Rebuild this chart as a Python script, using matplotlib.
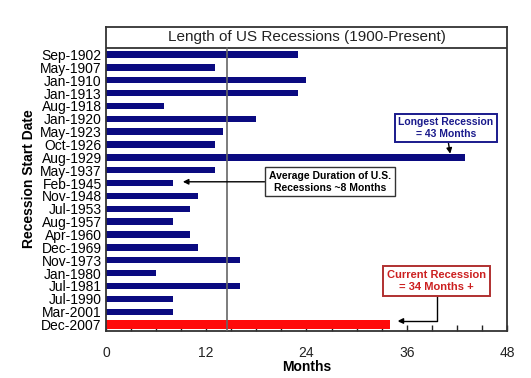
import matplotlib.pyplot as plt
import numpy as np

plt.rcParams['font.family'] = ['Liberation Sans', 'DejaVu Sans']

start_dates = ["Sep-1902", "May-1907", "Jan-1910", "Jan-1913", "Aug-1918", "Jan-1920",
               "May-1923", "Oct-1926", "Aug-1929", "May-1937", "Feb-1945", "Nov-1948",
               "Jul-1953", "Aug-1957", "Apr-1960", "Dec-1969", "Nov-1973", "Jan-1980",
               "Jul-1981", "Jul-1990", "Mar-2001", "Dec-2007"]
months = [23, 13, 24, 23, 7, 18, 14, 13, 43, 13, 8, 11, 10, 8, 10, 11, 16, 6, 16, 8, 8, 34]
avg_line = 14.5

navy = '#0a0a80'
red = '#ff0a0a'

fig = plt.figure(figsize=(5.31, 3.78), dpi=100)
ax = fig.add_axes([0.1996, 0.1243, 0.7552, 0.8042])

y = np.arange(len(start_dates))
colors = [navy] * (len(months) - 1) + [red]
heights = [0.5] * (len(months) - 1) + [0.68]
ax.barh(y, months, height=heights, color=colors, zorder=2)

# average line drawn over the bars
ax.plot([avg_line, avg_line], [-0.5, len(y) - 0.5], color='#666666', lw=1.2, zorder=3)

ax.set_xlim(0, 48)
ax.set_ylim(len(y) - 0.5, -2.13)
ax.set_yticks(y)
ax.set_yticklabels(start_dates, fontsize=10)
ax.tick_params(axis='y', length=0, pad=3)
ax.set_xticks(np.arange(0, 49, 12))
ax.set_xticks(np.arange(0, 49, 3), minor=True)
ax.tick_params(axis='x', which='both', direction='in', length=4, width=1, pad=11,
               labelsize=10, colors='#222222')
for s in ax.spines.values():
    s.set_color('#333333')
    s.set_linewidth(1.3)

# title band inside the frame
ax.axhline(-0.5, color='#333333', lw=1.3)
ax.text(24, -1.32, "Length of US Recessions (1900-Present)", ha='center', va='center',
        fontsize=11, color='#222222')

ax.set_ylabel("Recession Start Date", fontsize=10, fontweight='bold', labelpad=3)
ax.set_xlabel("Months", fontsize=10, fontweight='bold', labelpad=0)

ax.annotate("Longest Recession\n= 43 Months", xy=(41.2, 7.72), xytext=(40.7, 5.72),
            ha='center', va='center', fontsize=7.5, fontweight='bold', color='#1a1a8c',
            bbox=dict(boxstyle='square,pad=0.35', fc='white', ec='#1a1a8c', lw=1.4),
            arrowprops=dict(arrowstyle='-|>', color='black', lw=1, mutation_scale=8,
                            shrinkA=0, shrinkB=0))

ax.annotate("Average Duration of U.S.\nRecessions ~8 Months", xy=(9.2, 9.9), xytext=(26.8, 9.9),
            ha='center', va='center', fontsize=7.5, fontweight='bold', color='black',
            bbox=dict(boxstyle='square,pad=0.35', fc='white', ec='#333333', lw=1),
            arrowprops=dict(arrowstyle='-|>', color='black', lw=1, mutation_scale=8,
                            shrinkA=0, shrinkB=0))

ax.annotate("Current Recession\n= 34 Months +", xy=(34.9, 20.72), xytext=(39.6, 17.6),
            ha='center', va='center', fontsize=8, fontweight='bold', color='#cc2020',
            bbox=dict(boxstyle='square,pad=0.35', fc='white', ec='#b03030', lw=1.4),
            arrowprops=dict(arrowstyle='-|>', color='black', lw=1, mutation_scale=8,
                            shrinkA=0, shrinkB=0,
                            connectionstyle='angle,angleA=90,angleB=0,rad=0'))

fig.savefig("out.png", dpi=100)
